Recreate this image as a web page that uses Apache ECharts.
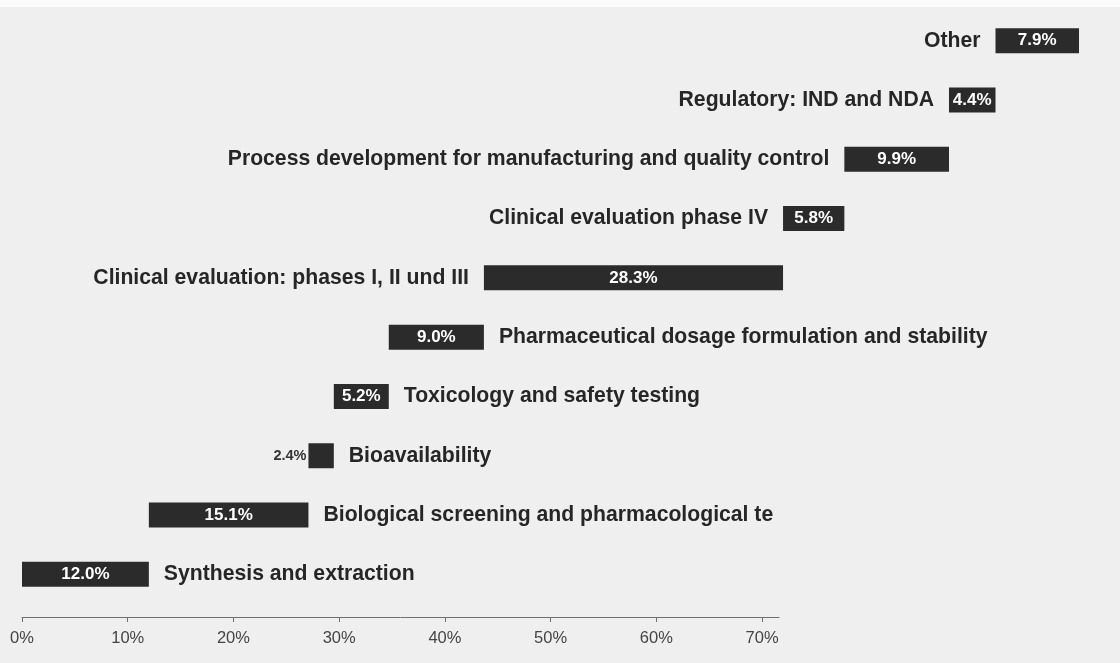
<!DOCTYPE html>
<html>
<head>
<meta charset="utf-8">
<script src="https://cdn.jsdelivr.net/npm/echarts@6/dist/echarts.min.js"></script>
<style>
html, body { margin: 0; padding: 0; background: #efefef; }
#main { width: 1120px; height: 663px; }
</style>
</head>
<body>
<div id="main"></div>
<script>
// stages from bottom to top, share of total cost in %
var stages = ['Synthesis and extraction', 'Biological screening and pharmacological testing', 'Bioavailability',
    'Toxicology and safety testing', 'Pharmaceutical dosage formulation and stability',
    'Clinical evaluation: phases I, II und III', 'Clinical evaluation phase IV',
    'Process development for manufacturing and quality control', 'Regulatory: IND and NDA', 'Other'];
var shares = [12.0, 15.1, 2.4, 5.2, 9.0, 28.3, 5.8, 9.9, 4.4, 7.9];
var nameSide = ['right', 'right', 'right', 'right', 'right', 'left', 'left', 'left', 'left', 'left'];
var axisTicks = [0, 10, 20, 30, 40, 50, 60, 70];

// each stage starts where the previous one ends
var starts = [];
var ends = [];
var acc = 0;
for (var i = 0; i < shares.length; i++) {
    starts.push(+acc.toFixed(1));
    acc += shares[i];
    ends.push(+acc.toFixed(1));
}

var font = 'Liberation Sans, Arial, sans-serif';
var nameLabel = {
    fontFamily: font,
    fontSize: 21.2,
    fontWeight: 'bold',
    color: '#262626',
    distance: 15
};

var myChart = echarts.init(document.getElementById('main'));
var option = {
    backgroundColor: '#efefef',
    animation: false,
    graphic: [{
        type: 'rect',
        left: 0,
        top: 0,
        shape: { width: 1120, height: 7 },
        style: { fill: '#fbfbfb' },
        silent: true
    }],
    grid: [
        { left: 22, width: 1057, top: 11, height: 593 },
        { left: 22, width: 757, top: 597, height: 20 }
    ],
    xAxis: [
        { gridIndex: 0, type: 'value', min: 0, max: 100, show: false },
        {
            gridIndex: 1,
            type: 'value',
            min: 0,
            max: 71.6,
            axisLine: { show: true, lineStyle: { color: '#6f6f6f', width: 1 } },
            axisTick: { show: true, customValues: axisTicks, length: 5, lineStyle: { color: '#6f6f6f' } },
            axisLabel: {
                customValues: axisTicks,
                formatter: '{value}%',
                color: '#444444',
                fontFamily: font,
                fontSize: 16.5,
                margin: 13
            },
            splitLine: { show: false }
        }
    ],
    yAxis: [
        { gridIndex: 0, type: 'category', data: stages, show: false },
        { gridIndex: 1, type: 'value', min: 0, max: 1, show: false }
    ],
    series: [
        {
            name: 'start',
            type: 'bar',
            stack: 'total',
            barWidth: 25,
            barGap: '-100%',
            silent: true,
            itemStyle: { color: 'transparent' },
            label: Object.assign({ show: true, position: 'insideRight', formatter: function (p) { return stages[p.dataIndex]; } }, nameLabel),
            data: starts.map(function (v, i) {
                return { value: v, label: { show: nameSide[i] === 'left' } };
            })
        },
        {
            name: 'share',
            type: 'bar',
            stack: 'total',
            barWidth: 25,
            barGap: '-100%',
            itemStyle: { color: '#2b2b2b' },
            label: {
                show: true,
                position: 'inside',
                color: '#ffffff',
                fontFamily: font,
                fontSize: 17,
                fontWeight: 'bold',
                formatter: function (p) { return p.value.toFixed(1) + '%'; }
            },
            data: shares.map(function (v) {
                // too thin for the text: put it outside on the left
                if (v < 3) {
                    return { value: v, label: { position: 'left', distance: 2, color: '#333', fontSize: 14.5 } };
                }
                return v;
            })
        },
        {
            name: 'end',
            type: 'bar',
            barWidth: 25,
            barGap: '-100%',
            silent: true,
            itemStyle: { color: 'transparent' },
            label: Object.assign({ show: true, position: 'right', formatter: function (p) { return stages[p.dataIndex]; } }, nameLabel),
            data: ends.map(function (v, i) {
                var item = { value: v, label: { show: nameSide[i] === 'right' } };
                // the scan cuts this label off at the right
                if (i === 1) {
                    item.label.overflow = 'truncate';
                    item.label.width = 458;
                    item.label.ellipsis = '';
                }
                return item;
            })
        }
    ]
};
myChart.setOption(option);
</script>
</body>
</html>
